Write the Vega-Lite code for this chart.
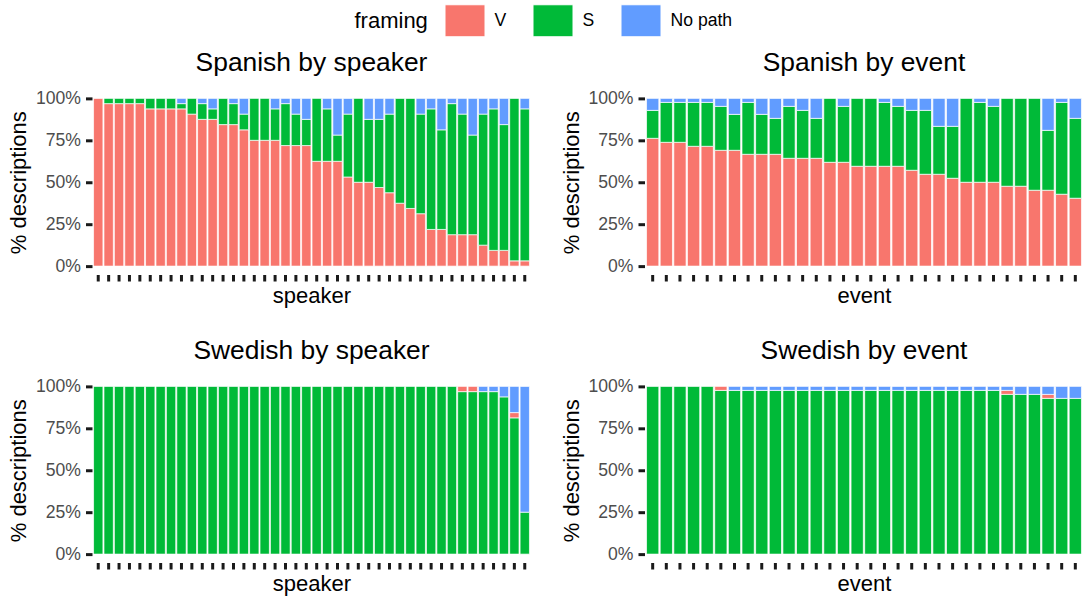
{
  "$schema": "https://vega.github.io/schema/vega-lite/v6.json",
  "padding": {"left": 7, "top": 4, "right": 0, "bottom": 4},
  "bounds": "flush",
  "columns": 2,
  "spacing": {"row": 103, "column": 113.5},
  "config": {
    "font": "Liberation Sans",
    "view": {"stroke": null},
    "axis": {
      "grid": false,
      "domain": false,
      "tickColor": "#1a1a1a",
      "tickWidth": 3,
      "tickSize": 6.5,
      "tickRound": false,
      "labelFontSize": 17.6,
      "labelColor": "#4D4D4D",
      "labelPadding": 5,
      "titleFontSize": 22,
      "titleFontWeight": "normal",
      "titleColor": "black",
      "titlePadding": 5
    },
    "axisX": {"titlePadding": 3, "labels": false},
    "title": {
      "fontSize": 26.4,
      "fontWeight": "normal",
      "color": "black",
      "anchor": "middle",
      "baseline": "alphabetic",
      "frame": "group",
      "offset": 13
    },
    "legend": {
      "orient": "none",
      "legendX": 262.5,
      "legendY": -86,
      "padding": 0,
      "direction": "horizontal",
      "titleOrient": "left",
      "titleAnchor": "middle",
      "titleBaseline": "middle",
      "titleFontSize": 22,
      "titleFontWeight": "normal",
      "titleColor": "black",
      "titlePadding": 20,
      "labelFontSize": 17.6,
      "labelColor": "black",
      "labelOffset": 13,
      "columnPadding": 24,
      "symbolType": "M-1.25,-1H1.25V1H-1.25Z",
      "symbolSize": 1024,
      "symbolStrokeColor": "white",
      "symbolStrokeWidth": 1,
      "symbolOpacity": 1
    }
  },
  "datasets": {
    "es_speaker": [
      {"unit": 1, "framing": "V", "n": 32},
      {"unit": 2, "framing": "V", "n": 31}, {"unit": 2, "framing": "S", "n": 1},
      {"unit": 3, "framing": "V", "n": 31}, {"unit": 3, "framing": "S", "n": 1},
      {"unit": 4, "framing": "V", "n": 31}, {"unit": 4, "framing": "S", "n": 1},
      {"unit": 5, "framing": "V", "n": 31}, {"unit": 5, "framing": "S", "n": 1},
      {"unit": 6, "framing": "V", "n": 30}, {"unit": 6, "framing": "S", "n": 2},
      {"unit": 7, "framing": "V", "n": 30}, {"unit": 7, "framing": "S", "n": 2},
      {"unit": 8, "framing": "V", "n": 30}, {"unit": 8, "framing": "S", "n": 2},
      {"unit": 9, "framing": "V", "n": 30}, {"unit": 9, "framing": "S", "n": 1}, {"unit": 9, "framing": "No path", "n": 1},
      {"unit": 10, "framing": "V", "n": 29}, {"unit": 10, "framing": "S", "n": 3},
      {"unit": 11, "framing": "V", "n": 28}, {"unit": 11, "framing": "S", "n": 3}, {"unit": 11, "framing": "No path", "n": 1},
      {"unit": 12, "framing": "V", "n": 28}, {"unit": 12, "framing": "S", "n": 2}, {"unit": 12, "framing": "No path", "n": 2},
      {"unit": 13, "framing": "V", "n": 27}, {"unit": 13, "framing": "S", "n": 5},
      {"unit": 14, "framing": "V", "n": 27}, {"unit": 14, "framing": "S", "n": 4}, {"unit": 14, "framing": "No path", "n": 1},
      {"unit": 15, "framing": "V", "n": 26}, {"unit": 15, "framing": "S", "n": 3}, {"unit": 15, "framing": "No path", "n": 3},
      {"unit": 16, "framing": "V", "n": 24}, {"unit": 16, "framing": "S", "n": 8},
      {"unit": 17, "framing": "V", "n": 24}, {"unit": 17, "framing": "S", "n": 8},
      {"unit": 18, "framing": "V", "n": 24}, {"unit": 18, "framing": "S", "n": 6}, {"unit": 18, "framing": "No path", "n": 2},
      {"unit": 19, "framing": "V", "n": 23}, {"unit": 19, "framing": "S", "n": 8}, {"unit": 19, "framing": "No path", "n": 1},
      {"unit": 20, "framing": "V", "n": 23}, {"unit": 20, "framing": "S", "n": 6}, {"unit": 20, "framing": "No path", "n": 3},
      {"unit": 21, "framing": "V", "n": 23}, {"unit": 21, "framing": "S", "n": 5}, {"unit": 21, "framing": "No path", "n": 4},
      {"unit": 22, "framing": "V", "n": 20}, {"unit": 22, "framing": "S", "n": 12},
      {"unit": 23, "framing": "V", "n": 20}, {"unit": 23, "framing": "S", "n": 10}, {"unit": 23, "framing": "No path", "n": 2},
      {"unit": 24, "framing": "V", "n": 20}, {"unit": 24, "framing": "S", "n": 5}, {"unit": 24, "framing": "No path", "n": 7},
      {"unit": 25, "framing": "V", "n": 17}, {"unit": 25, "framing": "S", "n": 12}, {"unit": 25, "framing": "No path", "n": 3},
      {"unit": 26, "framing": "V", "n": 16}, {"unit": 26, "framing": "S", "n": 16},
      {"unit": 27, "framing": "V", "n": 16}, {"unit": 27, "framing": "S", "n": 12}, {"unit": 27, "framing": "No path", "n": 4},
      {"unit": 28, "framing": "V", "n": 15}, {"unit": 28, "framing": "S", "n": 13}, {"unit": 28, "framing": "No path", "n": 4},
      {"unit": 29, "framing": "V", "n": 14}, {"unit": 29, "framing": "S", "n": 15}, {"unit": 29, "framing": "No path", "n": 3},
      {"unit": 30, "framing": "V", "n": 12}, {"unit": 30, "framing": "S", "n": 20},
      {"unit": 31, "framing": "V", "n": 11}, {"unit": 31, "framing": "S", "n": 21},
      {"unit": 32, "framing": "V", "n": 10}, {"unit": 32, "framing": "S", "n": 19}, {"unit": 32, "framing": "No path", "n": 3},
      {"unit": 33, "framing": "V", "n": 7}, {"unit": 33, "framing": "S", "n": 23}, {"unit": 33, "framing": "No path", "n": 2},
      {"unit": 34, "framing": "V", "n": 7}, {"unit": 34, "framing": "S", "n": 19}, {"unit": 34, "framing": "No path", "n": 6},
      {"unit": 35, "framing": "V", "n": 6}, {"unit": 35, "framing": "S", "n": 25}, {"unit": 35, "framing": "No path", "n": 1},
      {"unit": 36, "framing": "V", "n": 6}, {"unit": 36, "framing": "S", "n": 23}, {"unit": 36, "framing": "No path", "n": 3},
      {"unit": 37, "framing": "V", "n": 6}, {"unit": 37, "framing": "S", "n": 19}, {"unit": 37, "framing": "No path", "n": 7},
      {"unit": 38, "framing": "V", "n": 4}, {"unit": 38, "framing": "S", "n": 25}, {"unit": 38, "framing": "No path", "n": 3},
      {"unit": 39, "framing": "V", "n": 3}, {"unit": 39, "framing": "S", "n": 27}, {"unit": 39, "framing": "No path", "n": 2},
      {"unit": 40, "framing": "V", "n": 3}, {"unit": 40, "framing": "S", "n": 24}, {"unit": 40, "framing": "No path", "n": 5},
      {"unit": 41, "framing": "V", "n": 1}, {"unit": 41, "framing": "S", "n": 31},
      {"unit": 42, "framing": "V", "n": 1}, {"unit": 42, "framing": "S", "n": 29}, {"unit": 42, "framing": "No path", "n": 2}
    ],
    "es_event": [
      {"unit": 1, "framing": "V", "n": 32}, {"unit": 1, "framing": "S", "n": 7}, {"unit": 1, "framing": "No path", "n": 3},
      {"unit": 2, "framing": "V", "n": 31}, {"unit": 2, "framing": "S", "n": 10}, {"unit": 2, "framing": "No path", "n": 1},
      {"unit": 3, "framing": "V", "n": 31}, {"unit": 3, "framing": "S", "n": 10}, {"unit": 3, "framing": "No path", "n": 1},
      {"unit": 4, "framing": "V", "n": 30}, {"unit": 4, "framing": "S", "n": 11}, {"unit": 4, "framing": "No path", "n": 1},
      {"unit": 5, "framing": "V", "n": 30}, {"unit": 5, "framing": "S", "n": 11}, {"unit": 5, "framing": "No path", "n": 1},
      {"unit": 6, "framing": "V", "n": 29}, {"unit": 6, "framing": "S", "n": 11}, {"unit": 6, "framing": "No path", "n": 2},
      {"unit": 7, "framing": "V", "n": 29}, {"unit": 7, "framing": "S", "n": 9}, {"unit": 7, "framing": "No path", "n": 4},
      {"unit": 8, "framing": "V", "n": 28}, {"unit": 8, "framing": "S", "n": 13}, {"unit": 8, "framing": "No path", "n": 1},
      {"unit": 9, "framing": "V", "n": 28}, {"unit": 9, "framing": "S", "n": 10}, {"unit": 9, "framing": "No path", "n": 4},
      {"unit": 10, "framing": "V", "n": 28}, {"unit": 10, "framing": "S", "n": 9}, {"unit": 10, "framing": "No path", "n": 5},
      {"unit": 11, "framing": "V", "n": 27}, {"unit": 11, "framing": "S", "n": 13}, {"unit": 11, "framing": "No path", "n": 2},
      {"unit": 12, "framing": "V", "n": 27}, {"unit": 12, "framing": "S", "n": 12}, {"unit": 12, "framing": "No path", "n": 3},
      {"unit": 13, "framing": "V", "n": 27}, {"unit": 13, "framing": "S", "n": 10}, {"unit": 13, "framing": "No path", "n": 5},
      {"unit": 14, "framing": "V", "n": 26}, {"unit": 14, "framing": "S", "n": 16},
      {"unit": 15, "framing": "V", "n": 26}, {"unit": 15, "framing": "S", "n": 14}, {"unit": 15, "framing": "No path", "n": 2},
      {"unit": 16, "framing": "V", "n": 25}, {"unit": 16, "framing": "S", "n": 17},
      {"unit": 17, "framing": "V", "n": 25}, {"unit": 17, "framing": "S", "n": 17},
      {"unit": 18, "framing": "V", "n": 25}, {"unit": 18, "framing": "S", "n": 16}, {"unit": 18, "framing": "No path", "n": 1},
      {"unit": 19, "framing": "V", "n": 25}, {"unit": 19, "framing": "S", "n": 15}, {"unit": 19, "framing": "No path", "n": 2},
      {"unit": 20, "framing": "V", "n": 24}, {"unit": 20, "framing": "S", "n": 15}, {"unit": 20, "framing": "No path", "n": 3},
      {"unit": 21, "framing": "V", "n": 23}, {"unit": 21, "framing": "S", "n": 16}, {"unit": 21, "framing": "No path", "n": 3},
      {"unit": 22, "framing": "V", "n": 23}, {"unit": 22, "framing": "S", "n": 12}, {"unit": 22, "framing": "No path", "n": 7},
      {"unit": 23, "framing": "V", "n": 22}, {"unit": 23, "framing": "S", "n": 13}, {"unit": 23, "framing": "No path", "n": 7},
      {"unit": 24, "framing": "V", "n": 21}, {"unit": 24, "framing": "S", "n": 21},
      {"unit": 25, "framing": "V", "n": 21}, {"unit": 25, "framing": "S", "n": 20}, {"unit": 25, "framing": "No path", "n": 1},
      {"unit": 26, "framing": "V", "n": 21}, {"unit": 26, "framing": "S", "n": 19}, {"unit": 26, "framing": "No path", "n": 2},
      {"unit": 27, "framing": "V", "n": 20}, {"unit": 27, "framing": "S", "n": 22},
      {"unit": 28, "framing": "V", "n": 20}, {"unit": 28, "framing": "S", "n": 22},
      {"unit": 29, "framing": "V", "n": 19}, {"unit": 29, "framing": "S", "n": 23},
      {"unit": 30, "framing": "V", "n": 19}, {"unit": 30, "framing": "S", "n": 15}, {"unit": 30, "framing": "No path", "n": 8},
      {"unit": 31, "framing": "V", "n": 18}, {"unit": 31, "framing": "S", "n": 23}, {"unit": 31, "framing": "No path", "n": 1},
      {"unit": 32, "framing": "V", "n": 17}, {"unit": 32, "framing": "S", "n": 20}, {"unit": 32, "framing": "No path", "n": 5}
    ],
    "sv_speaker": [
      {"unit": 1, "framing": "S", "n": 32}, {"unit": 2, "framing": "S", "n": 32}, {"unit": 3, "framing": "S", "n": 32},
      {"unit": 4, "framing": "S", "n": 32}, {"unit": 5, "framing": "S", "n": 32}, {"unit": 6, "framing": "S", "n": 32},
      {"unit": 7, "framing": "S", "n": 32}, {"unit": 8, "framing": "S", "n": 32}, {"unit": 9, "framing": "S", "n": 32},
      {"unit": 10, "framing": "S", "n": 32}, {"unit": 11, "framing": "S", "n": 32}, {"unit": 12, "framing": "S", "n": 32},
      {"unit": 13, "framing": "S", "n": 32}, {"unit": 14, "framing": "S", "n": 32}, {"unit": 15, "framing": "S", "n": 32},
      {"unit": 16, "framing": "S", "n": 32}, {"unit": 17, "framing": "S", "n": 32}, {"unit": 18, "framing": "S", "n": 32},
      {"unit": 19, "framing": "S", "n": 32}, {"unit": 20, "framing": "S", "n": 32}, {"unit": 21, "framing": "S", "n": 32},
      {"unit": 22, "framing": "S", "n": 32}, {"unit": 23, "framing": "S", "n": 32}, {"unit": 24, "framing": "S", "n": 32},
      {"unit": 25, "framing": "S", "n": 32}, {"unit": 26, "framing": "S", "n": 32}, {"unit": 27, "framing": "S", "n": 32},
      {"unit": 28, "framing": "S", "n": 32}, {"unit": 29, "framing": "S", "n": 32}, {"unit": 30, "framing": "S", "n": 32},
      {"unit": 31, "framing": "S", "n": 32}, {"unit": 32, "framing": "S", "n": 32}, {"unit": 33, "framing": "S", "n": 32},
      {"unit": 34, "framing": "S", "n": 32}, {"unit": 35, "framing": "S", "n": 32},
      {"unit": 36, "framing": "S", "n": 31}, {"unit": 36, "framing": "V", "n": 1},
      {"unit": 37, "framing": "S", "n": 31}, {"unit": 37, "framing": "V", "n": 1},
      {"unit": 38, "framing": "S", "n": 31}, {"unit": 38, "framing": "No path", "n": 1},
      {"unit": 39, "framing": "S", "n": 31}, {"unit": 39, "framing": "No path", "n": 1},
      {"unit": 40, "framing": "S", "n": 30}, {"unit": 40, "framing": "No path", "n": 2},
      {"unit": 41, "framing": "S", "n": 26}, {"unit": 41, "framing": "V", "n": 1}, {"unit": 41, "framing": "No path", "n": 5},
      {"unit": 42, "framing": "S", "n": 8}, {"unit": 42, "framing": "No path", "n": 24}
    ],
    "sv_event": [
      {"unit": 1, "framing": "S", "n": 42}, {"unit": 2, "framing": "S", "n": 42}, {"unit": 3, "framing": "S", "n": 42},
      {"unit": 4, "framing": "S", "n": 42}, {"unit": 5, "framing": "S", "n": 42},
      {"unit": 6, "framing": "S", "n": 41}, {"unit": 6, "framing": "V", "n": 1},
      {"unit": 7, "framing": "S", "n": 41}, {"unit": 7, "framing": "No path", "n": 1},
      {"unit": 8, "framing": "S", "n": 41}, {"unit": 8, "framing": "No path", "n": 1},
      {"unit": 9, "framing": "S", "n": 41}, {"unit": 9, "framing": "No path", "n": 1},
      {"unit": 10, "framing": "S", "n": 41}, {"unit": 10, "framing": "No path", "n": 1},
      {"unit": 11, "framing": "S", "n": 41}, {"unit": 11, "framing": "No path", "n": 1},
      {"unit": 12, "framing": "S", "n": 41}, {"unit": 12, "framing": "No path", "n": 1},
      {"unit": 13, "framing": "S", "n": 41}, {"unit": 13, "framing": "No path", "n": 1},
      {"unit": 14, "framing": "S", "n": 41}, {"unit": 14, "framing": "No path", "n": 1},
      {"unit": 15, "framing": "S", "n": 41}, {"unit": 15, "framing": "No path", "n": 1},
      {"unit": 16, "framing": "S", "n": 41}, {"unit": 16, "framing": "No path", "n": 1},
      {"unit": 17, "framing": "S", "n": 41}, {"unit": 17, "framing": "No path", "n": 1},
      {"unit": 18, "framing": "S", "n": 41}, {"unit": 18, "framing": "No path", "n": 1},
      {"unit": 19, "framing": "S", "n": 41}, {"unit": 19, "framing": "No path", "n": 1},
      {"unit": 20, "framing": "S", "n": 41}, {"unit": 20, "framing": "No path", "n": 1},
      {"unit": 21, "framing": "S", "n": 41}, {"unit": 21, "framing": "No path", "n": 1},
      {"unit": 22, "framing": "S", "n": 41}, {"unit": 22, "framing": "No path", "n": 1},
      {"unit": 23, "framing": "S", "n": 41}, {"unit": 23, "framing": "No path", "n": 1},
      {"unit": 24, "framing": "S", "n": 41}, {"unit": 24, "framing": "No path", "n": 1},
      {"unit": 25, "framing": "S", "n": 41}, {"unit": 25, "framing": "No path", "n": 1},
      {"unit": 26, "framing": "S", "n": 41}, {"unit": 26, "framing": "No path", "n": 1},
      {"unit": 27, "framing": "S", "n": 40}, {"unit": 27, "framing": "V", "n": 1}, {"unit": 27, "framing": "No path", "n": 1},
      {"unit": 28, "framing": "S", "n": 40}, {"unit": 28, "framing": "No path", "n": 2},
      {"unit": 29, "framing": "S", "n": 40}, {"unit": 29, "framing": "No path", "n": 2},
      {"unit": 30, "framing": "S", "n": 39}, {"unit": 30, "framing": "V", "n": 1}, {"unit": 30, "framing": "No path", "n": 2},
      {"unit": 31, "framing": "S", "n": 39}, {"unit": 31, "framing": "No path", "n": 3},
      {"unit": 32, "framing": "S", "n": 39}, {"unit": 32, "framing": "No path", "n": 3}
    ]
  },
  "concat": [
    {
      "title": "Spanish by speaker",
      "data": {"name": "es_speaker"},
      "width": 439,
      "height": 184.5,
      "mark": {"type": "bar", "stroke": "white", "strokeWidth": 0.7},
      "encoding": {
        "x": {"field": "unit", "type": "ordinal", "title": "speaker", "scale": {"paddingInner": 0.1, "paddingOuter": 0.15}},
        "y": {"field": "n", "type": "quantitative", "stack": "normalize", "title": "% descriptions",
              "scale": {"domain": [-0.05, 1.05], "nice": false},
              "axis": {"values": [0, 0.25, 0.5, 0.75, 1], "format": ".0%"}},
        "color": {"field": "framing", "type": "nominal", "title": "framing",
                  "scale": {"domain": ["V", "S", "No path"], "range": ["#F8766D", "#00BA38", "#619CFF"]}},
        "order": {"field": "framing", "sort": "descending"}
      }
    },
    {
      "title": "Spanish by event",
      "data": {"name": "es_event"},
      "width": 439,
      "height": 184.5,
      "mark": {"type": "bar", "stroke": "white", "strokeWidth": 0.7},
      "encoding": {
        "x": {"field": "unit", "type": "ordinal", "title": "event", "scale": {"paddingInner": 0.1, "paddingOuter": 0.15}},
        "y": {"field": "n", "type": "quantitative", "stack": "normalize", "title": "% descriptions",
              "scale": {"domain": [-0.05, 1.05], "nice": false},
              "axis": {"values": [0, 0.25, 0.5, 0.75, 1], "format": ".0%"}},
        "color": {"field": "framing", "type": "nominal", "title": "framing",
                  "scale": {"domain": ["V", "S", "No path"], "range": ["#F8766D", "#00BA38", "#619CFF"]}},
        "order": {"field": "framing", "sort": "descending"}
      }
    },
    {
      "title": "Swedish by speaker",
      "data": {"name": "sv_speaker"},
      "width": 439,
      "height": 184.5,
      "transform": [{"calculate": "indexof(['S', 'V', 'No path'], datum.framing)", "as": "stack_rank"}],
      "mark": {"type": "bar", "stroke": "white", "strokeWidth": 0.7},
      "encoding": {
        "x": {"field": "unit", "type": "ordinal", "title": "speaker", "scale": {"paddingInner": 0.1, "paddingOuter": 0.15}},
        "y": {"field": "n", "type": "quantitative", "stack": "normalize", "title": "% descriptions",
              "scale": {"domain": [-0.05, 1.05], "nice": false},
              "axis": {"values": [0, 0.25, 0.5, 0.75, 1], "format": ".0%"}},
        "color": {"field": "framing", "type": "nominal", "title": "framing",
                  "scale": {"domain": ["V", "S", "No path"], "range": ["#F8766D", "#00BA38", "#619CFF"]}},
        "order": {"field": "stack_rank", "sort": "ascending"}
      }
    },
    {
      "title": "Swedish by event",
      "data": {"name": "sv_event"},
      "width": 439,
      "height": 184.5,
      "transform": [{"calculate": "indexof(['S', 'V', 'No path'], datum.framing)", "as": "stack_rank"}],
      "mark": {"type": "bar", "stroke": "white", "strokeWidth": 0.7},
      "encoding": {
        "x": {"field": "unit", "type": "ordinal", "title": "event", "scale": {"paddingInner": 0.1, "paddingOuter": 0.15}},
        "y": {"field": "n", "type": "quantitative", "stack": "normalize", "title": "% descriptions",
              "scale": {"domain": [-0.05, 1.05], "nice": false},
              "axis": {"values": [0, 0.25, 0.5, 0.75, 1], "format": ".0%"}},
        "color": {"field": "framing", "type": "nominal", "title": "framing",
                  "scale": {"domain": ["V", "S", "No path"], "range": ["#F8766D", "#00BA38", "#619CFF"]}},
        "order": {"field": "stack_rank", "sort": "ascending"}
      }
    }
  ]
}
